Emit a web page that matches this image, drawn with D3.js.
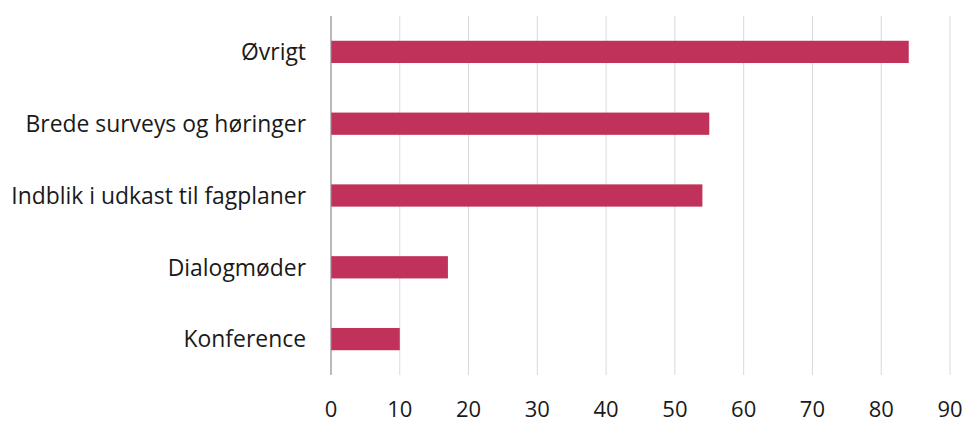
<!DOCTYPE html>
<html>
<head>
<meta charset="utf-8">
<script src="https://cdn.jsdelivr.net/npm/d3@7"></script>
<style>
  body { margin: 0; background: #fff; }
  text { font-family: "Open Sans", "Noto Sans", sans-serif; fill: #1a1a1a; }
</style>
</head>
<body>
<svg id="chart" width="963" height="422"></svg>
<script>
// data
const categories = ["Øvrigt", "Brede surveys og høringer", "Indblik i udkast til fagplaner", "Dialogmøder", "Konference"];
const values = [84, 55, 54, 17, 10];
const xTicks = [0, 10, 20, 30, 40, 50, 60, 70, 80, 90];

const svg = d3.select("#chart");
const margin = { top: 16, right: 13, bottom: 47, left: 331 };
const width = 963 - margin.left - margin.right;
const height = 422 - margin.top - margin.bottom;

const g = svg.append("g").attr("transform", `translate(${margin.left},${margin.top})`);

const x = d3.scaleLinear().domain([0, 90]).range([0, 619]);
const y = d3.scaleBand().domain(categories).range([0, height]).paddingInner(0.69).paddingOuter(0.345);

// gridlines
g.selectAll(".grid")
  .data(xTicks.slice(1))
  .join("line")
    .attr("x1", d => x(d)).attr("x2", d => x(d))
    .attr("y1", 0).attr("y2", height)
    .attr("stroke", "#d9d9d9").attr("stroke-width", 1);

// bars
g.selectAll(".bar")
  .data(values)
  .join("rect")
    .attr("x", 0)
    .attr("y", (d, i) => y(categories[i]))
    .attr("width", d => x(d))
    .attr("height", y.bandwidth())
    .attr("fill", "#c0325a");

// vertical axis line
g.append("line")
  .attr("x1", 0).attr("x2", 0)
  .attr("y1", 0).attr("y2", height)
  .attr("stroke", "#8c8c8c").attr("stroke-width", 1.2);

// category labels
g.selectAll(".cat")
  .data(categories)
  .join("text")
    .attr("x", -25)
    .attr("y", d => y(d) + y.bandwidth() / 2)
    .attr("dy", "0.36em")
    .attr("text-anchor", "end")
    .style("font-size", "22.9px")
    .text(d => d);

// tick labels
g.selectAll(".tick")
  .data(xTicks)
  .join("text")
    .attr("x", d => x(d))
    .attr("y", height + 42)
    .attr("text-anchor", "middle")
    .style("font-size", "22px")
    .text(d => d);
</script>
</body>
</html>
